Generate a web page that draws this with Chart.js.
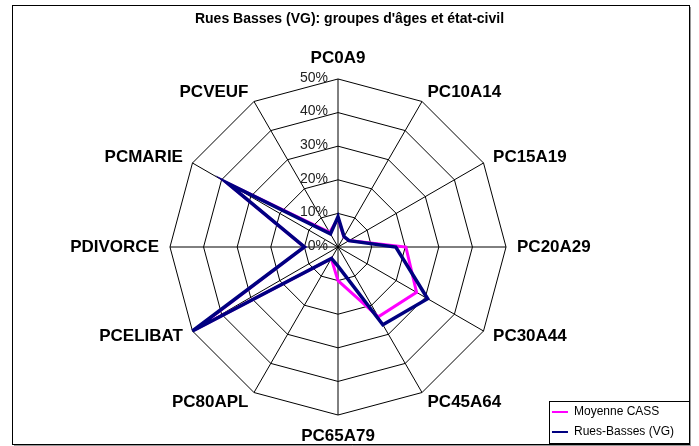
<!DOCTYPE html>
<html>
<head>
<meta charset="utf-8">
<title>Rues Basses (VG): groupes d'âges et état-civil</title>
<script src="https://cdn.jsdelivr.net/npm/chart.js@4/dist/chart.umd.min.js"></script>
<style>
  html, body { margin: 0; padding: 0; background: #fff; }
  canvas { display: block; }
</style>
</head>
<body>
<canvas id="radarChart" width="699" height="446"></canvas>
<script>
// categories (axes of the radar)
const categories = ['PC0A9', 'PC10A14', 'PC15A19', 'PC20A29', 'PC30A44', 'PC45A64',
  'PC65A79', 'PC80APL', 'PCELIBAT', 'PDIVORCE', 'PCMARIE', 'PCVEUF'];

// values in %
const moyenneCass = [8.5, 3.5, 3.8, 20.2, 27, 24, 10, 4, 49, 10, 38, 5];
const ruesBasses = [9, 3.6, 3.8, 17.2, 30.8, 26.7, 5.7, 3.9, 50, 10, 38, 4.5];

const tickValues = [0, 10, 20, 30, 40, 50];

const chartPlugin = {
  id: 'excelLook',
  afterLayout(chart) {
    // title centred on the whole frame, legend in the bottom right corner
    chart.titleBlock.left = 0;
    chart.titleBlock.right = chart.width;
    const lg = chart.legend;
    lg.left = 690 - lg.width - 6;
    lg.right = lg.left + lg.width;
    lg.bottom = 446;
    lg.top = lg.bottom - lg.height;
  },
  beforeDraw(chart) {
    const ctx = chart.ctx;
    ctx.save();
    ctx.fillStyle = '#fff';
    ctx.fillRect(0, 0, chart.width, chart.height);
    ctx.strokeStyle = '#999';
    ctx.lineWidth = 1;
    ctx.beginPath();
    ctx.moveTo(690.5, 7);
    ctx.lineTo(690.5, 446);
    ctx.moveTo(14, 445.5);
    ctx.lineTo(691, 445.5);
    ctx.stroke();
    ctx.strokeStyle = '#000';
    ctx.strokeRect(12.5, 5.5, 677, 439);
    ctx.restore();
  },
  beforeDatasetsDraw(chart) {
    const r = chart.scales.r;
    const ctx = chart.ctx;
    ctx.save();
    ctx.font = '14px Arial, "Liberation Sans", sans-serif';
    ctx.fillStyle = '#222';
    ctx.textAlign = 'right';
    ctx.textBaseline = 'middle';
    r.ticks.forEach(t => {
      const d = r.getDistanceFromCenterForValue(t.value);
      ctx.fillText(t.label, r.xCenter - 10, r.yCenter - d - 1);
    });
    ctx.restore();
  },
  afterDraw(chart) {
    const lg = chart.legend;
    const ctx = chart.ctx;
    const colH = lg.columnSizes[0].height;
    ctx.save();
    ctx.strokeStyle = '#000';
    ctx.lineWidth = 1;
    const x0 = Math.round(lg.left + 5) + 0.5;
    const y0 = Math.round(lg.bottom - colH - 5) + 0.5;
    ctx.strokeRect(x0, y0, 689.5 - x0, 443.5 - y0);
    ctx.restore();
  }
};

new Chart(document.getElementById('radarChart').getContext('2d'), {
  type: 'radar',
  data: {
    labels: categories,
    datasets: [{
      label: 'Moyenne CASS',
      data: moyenneCass,
      borderColor: '#FF00FF',
      backgroundColor: 'transparent',
      borderWidth: 3,
      borderJoinStyle: 'miter',
      pointRadius: 0,
      fill: false,
      order: 1
    }, {
      label: 'Rues-Basses (VG)',
      data: ruesBasses,
      borderColor: '#000080',
      backgroundColor: 'transparent',
      borderWidth: 3.5,
      borderJoinStyle: 'miter',
      pointRadius: 0,
      fill: false,
      order: 0
    }]
  },
  plugins: [chartPlugin],
  options: {
    responsive: false,
    animation: false,
    devicePixelRatio: 1,
    layout: { padding: { left: 0, right: 23, top: 0, bottom: 8 } },
    scales: {
      r: {
        min: 0,
        max: 50,
        afterBuildTicks: scale => { scale.ticks = tickValues.map(v => ({ value: v })); },
        ticks: {
          display: false,
          callback: v => v + '%'
        },
        grid: { circular: false, color: '#000', lineWidth: 1 },
        angleLines: { color: '#000', lineWidth: 1 },
        pointLabels: {
          color: '#000',
          padding: ctx => (ctx.index === 0 || ctx.index === 6) ? 21 : 11,
          font: { family: 'Arial, "Liberation Sans", sans-serif', size: 17, weight: 'bold', lineHeight: 0.01 }
        }
      }
    },
    plugins: {
      title: {
        display: true,
        text: "Rues Basses (VG): groupes d'âges et état-civil",
        color: '#000',
        font: { family: 'Arial, "Liberation Sans", sans-serif', size: 14, weight: 'bold' },
        padding: { top: 11, bottom: 30 }
      },
      legend: {
        position: 'chartArea',
        align: 'end',
        labels: {
          color: '#000',
          font: { family: 'Arial, "Liberation Sans", sans-serif', size: 12 },
          usePointStyle: true,
          pointStyle: 'line',
          pointStyleWidth: 16,
          padding: 8,
          sort: (a, b) => a.datasetIndex - b.datasetIndex,
          generateLabels: chart => Chart.defaults.plugins.legend.labels.generateLabels(chart)
            .map(item => Object.assign(item, { lineWidth: 2 }))
        }
      },
      tooltip: { enabled: false }
    }
  }
});
</script>
</body>
</html>
